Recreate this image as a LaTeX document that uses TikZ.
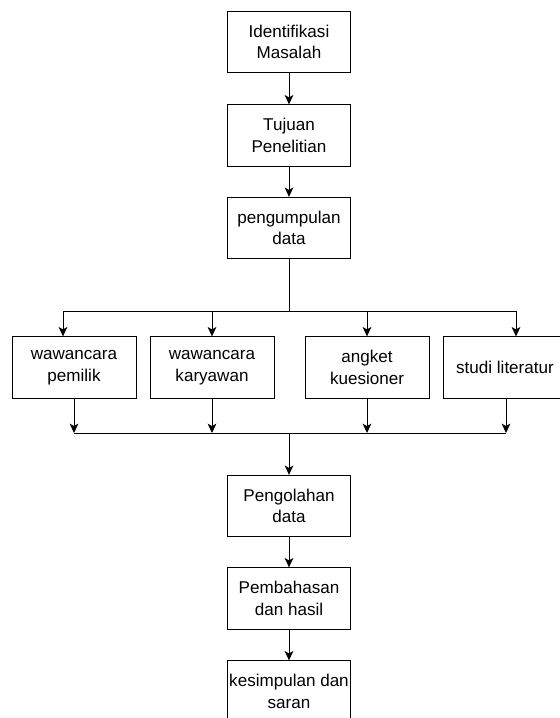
\documentclass[tikz,border=0pt]{standalone}
\usepackage{fontspec}
\setmainfont{Liberation Sans}
\usetikzlibrary{arrows.meta,calc}
\begin{document}
\begin{tikzpicture}[x=0.75pt,y=-0.75pt,
  box/.style={draw=black,line width=0.75pt,minimum width=92.5pt,minimum height=46pt,inner sep=0pt,align=center,font=\fontsize{12.8}{16.3}\selectfont},
  wbox/.style={box,minimum width=93pt},
  conn/.style={line width=0.75pt,draw=black},
  arr/.style={conn,-{Stealth[length=7pt,width=6.5pt,inset=1.8pt]}}]
\clip (0,0) rectangle (560,718);
\fill[white] (0,0) rectangle (560,718);
\node[box] (id) at (289,42) {Identifikasi\\Masalah};
\node[box] (tp) at (289,135.5) {Tujuan\\Penelitian};
\node[box] (pg) at (289,228) {pengumpulan\\data};
\node[wbox] (a) at (74,367.5) {wawancara\\pemilik};
\node[wbox] (b) at (212,367.5) {wawancara\\karyawan};
\node[wbox] (c) at (367,367.5) {angket\\kuesioner};
\node[wbox] (d) at (505,367.5) {studi literatur};
\node[box] (po) at (289,506) {Pengolahan\\data};
\node[box] (pb) at (289,598.5) {Pembahasan\\dan hasil};
\node[box] (ks) at (289,691.5) {kesimpulan dan\\saran};
\coordinate (top) at (289,311);
\coordinate (bot) at (289,433);
\coordinate (ba) at (74,433);
\coordinate (bb) at (212,433);
\coordinate (bc) at (367,433);
\coordinate (bd) at (506,433);
\draw[arr] (id) -- (tp);
\draw[arr] (tp) -- (pg);
\draw[conn] (pg) -- (top);
\draw[arr] (top) -| ($(a.north)+(-11,0)$);
\draw[arr] (top) -| (b.north);
\draw[arr] (top) -| (c.north);
\draw[arr] (top) -| ($(d.north)+(11,0)$);
\draw[arr] (a.south) -- (ba);
\draw[arr] (b.south) -- (bb);
\draw[arr] (c.south) -- (bc);
\draw[arr] (d.south -| bd) -- (bd);
\draw[conn] (ba) -- (bd);
\draw[arr] (bot) -- (po);
\draw[arr] (po) -- (pb);
\draw[arr] (pb) -- (ks);
\end{tikzpicture}
\end{document}
